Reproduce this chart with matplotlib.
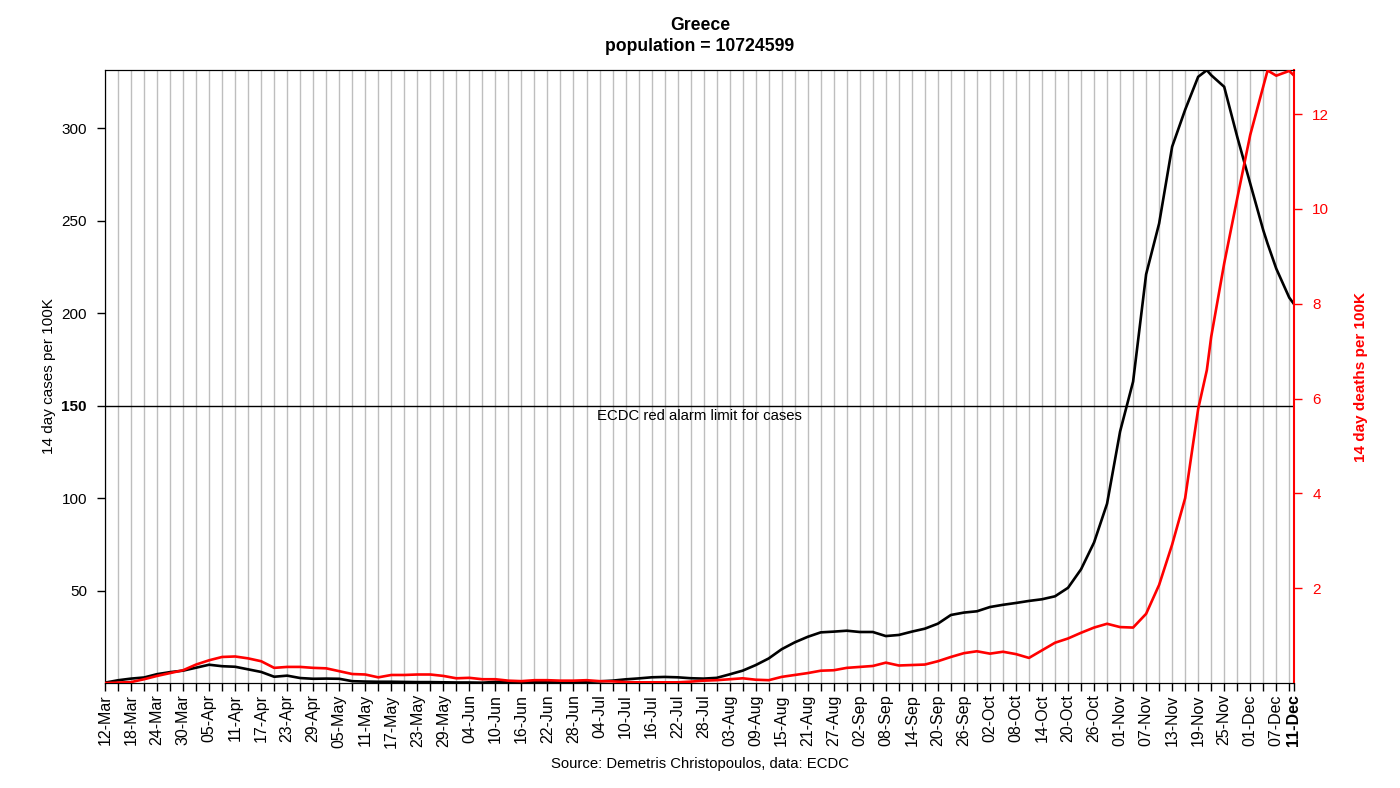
import matplotlib
matplotlib.use('Agg')
import matplotlib.pyplot as plt
import pandas as pd

plt.rcParams['font.family'] = ['Liberation Sans', 'DejaVu Sans']

# ---------------- data ----------------
start_date = '2020-03-12'
end_date = '2020-12-11'
population = 10724599
alarm_limit = 150

# sample dates: every 3 days from 12-Mar plus a few extra readings
sample_dates = sorted(list(pd.date_range('2020-03-12', '2020-12-10', freq='3D'))
                      + [pd.Timestamp('2020-11-21'), pd.Timestamp('2020-12-05'),
                         pd.Timestamp('2020-12-11')])

# 14 day cases per 100K (black, left axis)
cases = [
    0.2, 1.5, 2.4, 3.0, 4.8, 5.9, 6.7, 8.3, 9.9, 9.1,          # Mar - early Apr
    8.8, 7.4, 6.0, 3.4, 4.0, 2.7, 2.3, 2.4, 2.3, 1.0,          # Apr - May
    0.8, 0.7, 0.7, 0.6, 0.5, 0.5, 0.4, 0.3, 0.3, 0.2,          # May - Jun
    0.6, 0.7, 0.5, 0.5, 0.5, 0.7, 0.7, 0.7, 0.9, 1.3,          # Jun - Jul
    2.0, 2.5, 3.1, 3.3, 3.1, 2.6, 2.4, 2.8, 4.7, 6.7,          # Jul - Aug
    9.7, 13.3, 18.3, 22.0, 25.0, 27.4, 27.8, 28.3, 27.6, 27.6, # Aug - Sep
    25.4, 26.0, 27.8, 29.4, 32.1, 36.8, 38.1, 38.8, 41.1, 42.3,# Sep - Oct
    43.3, 44.4, 45.3, 46.9, 51.5, 61.5, 76.0, 97.0, 136.0, 163.0,  # Oct - Nov
    221.0, 248.5, 290.0, 310.0, 327.8, 331.4, 328.7, 322.4, 295.4, 270.1,  # Nov
    244.9, 237.6, 224.1, 208.4, 205.2,                         # Dec
]

# 14 day deaths per 100K (red, right axis)
deaths = [
    0.0, 0.01, 0.02, 0.08, 0.15, 0.21, 0.27, 0.39, 0.48, 0.55,
    0.56, 0.52, 0.46, 0.32, 0.34, 0.34, 0.32, 0.31, 0.25, 0.19,
    0.18, 0.12, 0.17, 0.17, 0.18, 0.18, 0.15, 0.10, 0.11, 0.08,
    0.08, 0.05, 0.04, 0.06, 0.06, 0.05, 0.05, 0.06, 0.04, 0.035,
    0.02, 0.015, 0.015, 0.015, 0.015, 0.03, 0.05, 0.06, 0.08, 0.10,
    0.07, 0.06, 0.13, 0.17, 0.21, 0.26, 0.27, 0.32, 0.34, 0.36,
    0.43, 0.37, 0.38, 0.39, 0.46, 0.55, 0.63, 0.67, 0.62, 0.66,
    0.61, 0.53, 0.69, 0.85, 0.94, 1.06, 1.17, 1.25, 1.18, 1.17,
    1.46, 2.07, 2.92, 3.90, 5.78, 6.6, 7.3, 8.85, 10.22, 11.56,
    12.58, 12.92, 12.81, 12.91, 12.82,
]

left_ticks = [50, 100, 150, 200, 250, 300]
right_ticks = [2, 4, 6, 8, 10, 12]
cases_top = 331.5
deaths_top = 12.93

# ---------------- plot ----------------
start = pd.Timestamp(start_date)
end = pd.Timestamp(end_date)
n_days = (end - start).days
x = [(d - start).days for d in sample_dates]

fig = plt.figure(figsize=(14, 7.88), dpi=100)
ax = fig.add_axes([0.075, 0.1332, 0.849, 0.778])
ax2 = ax.twinx()

grid_days = list(range(0, n_days, 3)) + [n_days]
for d in grid_days:
    ax.axvline(d, color='#BEBEBE', lw=1.0, zorder=0)

ax.axhline(alarm_limit, color='black', lw=1.0, zorder=1)
ax.text(137, alarm_limit - 2, 'ECDC red alarm limit for cases',
        ha='center', va='top', fontsize=10.7)

ax.plot(x, cases, color='black', lw=1.9, zorder=3)
ax2.plot(x, deaths, color='red', lw=1.9, zorder=3)

ax.set_xlim(0, n_days)
ax.set_ylim(0, cases_top)
ax2.set_ylim(0, deaths_top)

# x ticks
major = list(range(0, n_days, 6)) + [n_days]
minor = [d for d in range(0, n_days, 3) if d % 6 != 0]
ax.set_xticks(major)
ax.set_xticks(minor, minor=True)
labels = [(start + pd.Timedelta(days=d)).strftime('%d-%b') for d in major]
ax.set_xticklabels(labels, rotation=90, fontsize=11.5)
ax.get_xticklabels()[-1].set_fontweight('bold')
ax.tick_params(axis='x', which='both', length=6, width=1, direction='out', pad=2)

# left y ticks
ax.set_yticks(left_ticks)
ax.set_yticklabels([str(v) for v in left_ticks], fontsize=11)
for t in ax.get_yticklabels():
    if t.get_text() == str(alarm_limit):
        t.set_fontweight('bold')
ax.tick_params(axis='y', length=6, width=1, direction='out', pad=7)

# right y ticks
ax2.set_yticks(right_ticks)
ax2.set_yticklabels([str(v) for v in right_ticks], fontsize=11, color='red')
ax2.tick_params(axis='y', length=6, width=1, direction='out', colors='red', pad=7.5)

for s in ['left', 'top', 'bottom']:
    ax.spines[s].set_color('black')
    ax2.spines[s].set_color('black')
ax2.spines['right'].set_color('red')
ax2.spines['right'].set_linewidth(1.5)
ax.spines['right'].set_visible(False)

ax.set_ylabel('14 day cases per 100K', fontsize=11, labelpad=4)
ax2.set_ylabel('14 day deaths per 100K', fontsize=11, color='red',
               fontweight='bold', labelpad=18)

fig.text(0.5, 0.968, 'Greece', ha='center', va='center', fontsize=12.7, fontweight='bold')
fig.text(0.5, 0.941, 'population = %d' % population, ha='center', va='center',
         fontsize=12.7, fontweight='bold')
fig.text(0.5, 0.031, 'Source: Demetris Christopoulos, data: ECDC', ha='center',
         va='center', fontsize=10.7)

fig.savefig('out.png', dpi=100)
